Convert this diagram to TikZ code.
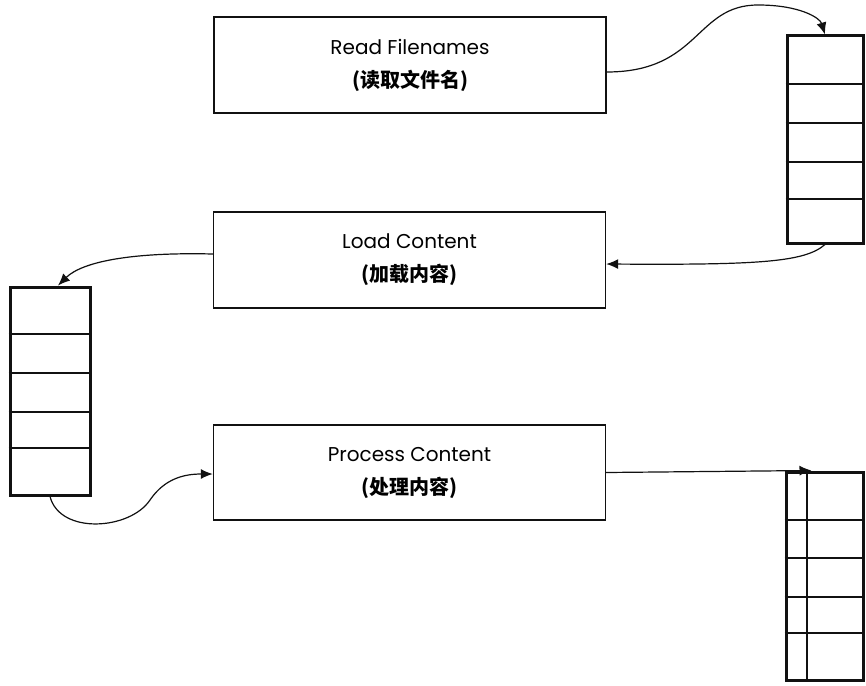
\documentclass[tikz,border=0pt]{standalone}
\usepackage{fontspec}
\setmainfont{Poppins}
\newfontfamily\cjk{Noto Sans CJK SC}
\usetikzlibrary{arrows.meta, calc}
\definecolor{InkBlack}{HTML}{111111}
\tikzset{
  procbox/.style={draw=InkBlack, line width=1.4pt, minimum width=392pt, minimum height=96pt, inner sep=0pt, align=center, font=\fontsize{20}{33}\selectfont},
  stackbox/.style={draw=InkBlack, line width=3pt, minimum width=76pt, minimum height=207pt, inner sep=0pt},
  divider/.style={draw=InkBlack, line width=2.6pt},
  arrow/.style={-{Latex[length=12pt, width=10pt]}, line width=1.2pt, draw=InkBlack}
}
\begin{document}
\begin{tikzpicture}[x=1pt, y=-1pt]
\useasboundingbox (0,0) rectangle (866,685);
\node[procbox] (readfn) at (410,65) {Read Filenames\\{\cjk\bfseries (读取文件名)}};
\node[procbox] (loadct) at (409.5,260) {Load Content\\{\cjk\bfseries (加载内容)}};
\node[procbox, minimum height=95pt] (procct) at (409.5,472.5) {Process Content\\{\cjk\bfseries (处理内容)}};
\node[stackbox] (fnstack) at (825,139.5) {};
\node[stackbox, minimum width=80pt, minimum height=208pt] (ctstack) at (50,391) {};
\node[stackbox, minimum width=77pt, minimum height=208pt] (outstack) at (824.5,576) {};
\foreach \y in {84,123,162,199}
  \draw[divider] (fnstack.west |- 0,\y) -- (fnstack.east |- 0,\y);
\foreach \y in {334,373,412,448}
  \draw[divider] (ctstack.west |- 0,\y) -- (ctstack.east |- 0,\y);
\foreach \y in {520,558,597,633}
  \draw[divider] (outstack.west |- 0,\y) -- (outstack.east |- 0,\y);
\draw[divider] (outstack.north west -| 807,0) -- (outstack.south west -| 807,0);
\draw[arrow] ($(readfn.east)+(0,7)$) .. controls (700,72) and (695,5) .. (758,5) .. controls (800,5) and (820,18) .. (fnstack.north);
\draw[arrow] (fnstack.south) .. controls (805,262) and (760,265) .. ($(loadct.east)+(0,4)$);
\draw[arrow] ($(loadct.west)+(0,-6)$) .. controls (130,252) and (82,262) .. ($(ctstack.north)+(8,0)$);
\draw[arrow] (ctstack.south) .. controls (60,535) and (130,530) .. (150,500) .. controls (165,478) and (185,474) .. ($(procct.west)+(0,1.5)$);
\draw[arrow] (procct.east) -- ($(outstack.north west)+(27,0)$);
\end{tikzpicture}
\end{document}
